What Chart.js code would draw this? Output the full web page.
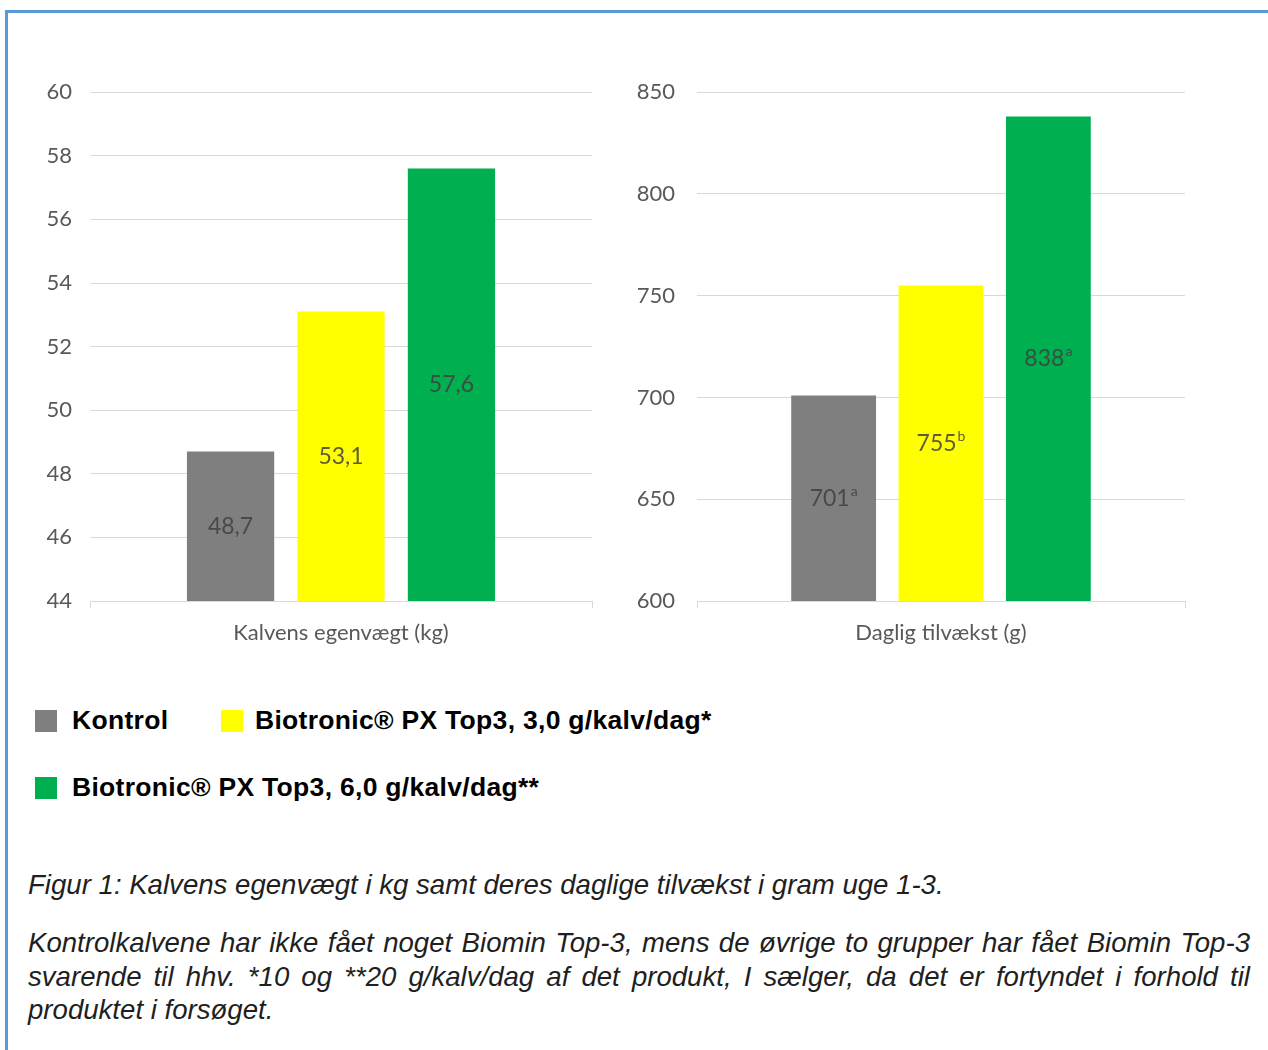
<!DOCTYPE html>
<html>
<head>
<meta charset="utf-8">
<script src="https://cdn.jsdelivr.net/npm/chart.js@4.4.0/dist/chart.umd.min.js"></script>
<style>
  html, body { margin: 0; padding: 0; background: #fff; width: 1268px; height: 1050px; overflow: hidden; }
  .frame { position: absolute; left: 5px; top: 10px; width: 1400px; height: 1100px; border-left: 3px solid #5b9bd5; border-top: 3px solid #5b9bd5; box-sizing: border-box; }
  .cv { position: absolute; }
  .leg { position: absolute; font-family: "Liberation Sans", Arial, sans-serif; font-weight: bold; font-size: 26.5px; letter-spacing: 0.3px; color: #000; white-space: nowrap; }
  .sw { position: absolute; width: 22px; height: 22px; }
  .cap { position: absolute; font-family: "Liberation Sans", Arial, sans-serif; font-style: italic; font-size: 27.6px; color: #1f1f1f; }
</style>
</head>
<body>
<div class="frame"></div>
<div class="cv" style="left:20px; top:61px; width:590px; height:609px;"><canvas id="c1"></canvas></div>
<div class="cv" style="left:620px; top:57px; width:590px; height:613px;"><canvas id="c2"></canvas></div>

<div class="sw" id="sw0" style="left:35px; top:710px;"></div>
<div class="leg" id="lg0" style="left:72px; top:705px;"></div>
<div class="sw" id="sw1" style="left:221px; top:710px;"></div>
<div class="leg" id="lg1" style="left:255px; top:705px;"></div>
<div class="sw" id="sw2" style="left:35px; top:777px;"></div>
<div class="leg" id="lg2" style="left:72px; top:772px;"></div>

<div class="cap" id="cap1" style="left:28px; top:869px; width:1240px; white-space:nowrap;"></div>
<div class="cap" id="cap2" style="left:28px; top:926px; width:1222px; text-align: justify; line-height:33.5px;"></div>

<script>
// ---- data ----
const groups = ['Kontrol', 'Biotronic® PX Top3, 3,0 g/kalv/dag*', 'Biotronic® PX Top3, 6,0 g/kalv/dag**'];
const groupColors = ['#7f7f7f', '#ffff00', '#00b050'];
const weightCategory = ['Kalvens egenvægt (kg)'];
const weightValues = [48.7, 53.1, 57.6];
const weightTickMin = 44, weightTickMax = 60, weightTickStep = 2;
const gainCategory = ['Daglig tilvækst (g)'];
const gainValues = [701, 755, 838];
const gainLetters = ['a', 'b', 'a'];
const gainTickMin = 600, gainTickMax = 850, gainTickStep = 50;
const caption1 = 'Figur 1: Kalvens egenvægt i kg samt deres daglige tilvækst i gram uge 1-3.';
const caption2 = 'Kontrolkalvene har ikke fået noget Biomin Top-3, mens de øvrige to grupper har fået Biomin Top-3 svarende til hhv. *10 og **20 g/kalv/dag af det produkt, I sælger, da det er fortyndet i forhold til produktet i forsøget.';

// legend + captions
groups.forEach((g, i) => {
  document.getElementById('sw' + i).style.background = groupColors[i];
  document.getElementById('lg' + i).textContent = g;
});
document.getElementById('cap1').textContent = caption1;
document.getElementById('cap2').textContent = caption2;

const FONT = 'Lato, "Open Sans", sans-serif';

function makeLabelPlugin(fmt, sups) {
  return {
    id: 'barLabels',
    afterDatasetsDraw(chart) {
      const ctx = chart.ctx;
      const bottom = chart.chartArea.bottom;
      chart.data.datasets.forEach((ds, di) => {
        const meta = chart.getDatasetMeta(di);
        meta.data.forEach((bar, i) => {
          const main = fmt(ds.data[i]);
          const sup = sups ? sups[di] : '';
          const y = (bar.y + Math.min(bar.base, bottom)) / 2;
          ctx.save();
          ctx.fillStyle = 'rgba(64,64,64,0.85)';
          ctx.textBaseline = 'middle';
          ctx.textAlign = 'left';
          ctx.font = '23px ' + FONT;
          const w1 = ctx.measureText(main).width;
          ctx.font = '14px ' + FONT;
          const w2 = sup ? ctx.measureText(sup).width + 1 : 0;
          const x0 = bar.x - (w1 + w2) / 2;
          ctx.font = '23px ' + FONT;
          ctx.fillText(main, x0, y);
          if (sup) {
            ctx.font = '14px ' + FONT;
            ctx.fillText(sup, x0 + w1 + 1, y - 7);
          }
          ctx.restore();
        });
      });
    }
  };
}

function makeChart(id, cat, values, min, max, step, yWidth, yPad, padRight, fmt, sups) {
  return new Chart(document.getElementById(id), {
    type: 'bar',
    data: {
      labels: cat,
      datasets: groups.map((g, i) => ({
        label: g,
        data: [values[i]],
        backgroundColor: groupColors[i],
        borderWidth: 0,
        barPercentage: 0.79,
        categoryPercentage: 0.66
      }))
    },
    options: {
      responsive: true,
      maintainAspectRatio: false,
      animation: false,
      layout: { padding: { top: 10, right: padRight, bottom: 0, left: 0 } },
      plugins: {
        legend: { display: false },
        tooltip: { enabled: false }
      },
      scales: {
        x: {
          offset: true,
          grid: { display: true, drawOnChartArea: false, drawTicks: true, tickLength: 7, color: '#d9d9d9' },
          border: { display: true, color: '#d9d9d9', width: 1 },
          ticks: { color: '#595959', font: { family: FONT, size: 22 }, padding: 12 },
          afterFit: s => { s.height = 69; }
        },
        y: {
          min: min, max: max,
          ticks: { stepSize: step, color: '#595959', font: { family: FONT, size: 22 }, padding: yPad },
          grid: { color: '#d9d9d9', lineWidth: 1, drawTicks: false },
          border: { display: false },
          afterFit: s => { s.width = yWidth; }
        }
      }
    },
    plugins: [makeLabelPlugin(fmt, sups)]
  });
}

makeChart('c1', weightCategory, weightValues, weightTickMin, weightTickMax, weightTickStep, 70, 18, 18,
  v => String(v).replace('.', ','), null);
makeChart('c2', gainCategory, gainValues, gainTickMin, gainTickMax, gainTickStep, 77, 22, 25,
  v => String(v), gainLetters);
</script>
</body>
</html>
